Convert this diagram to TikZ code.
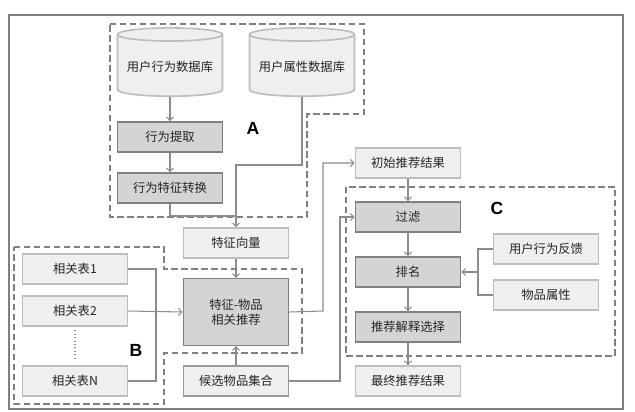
\documentclass[tikz,border=0pt]{standalone}
\usepackage{fontspec}
\setmainfont{Noto Sans CJK SC}
\newfontfamily\lblfont{Liberation Sans}
\usetikzlibrary{shapes.geometric,arrows.meta}
\definecolor{darkbox}{HTML}{D4D4D4}
\definecolor{lightbox}{HTML}{EFEFEF}
\definecolor{edgegray}{HTML}{808080}
\definecolor{softgray}{HTML}{BDBDBD}
\definecolor{linegray}{HTML}{8C8C8C}
\definecolor{txt}{HTML}{262626}

\begin{document}
\begin{tikzpicture}[x=0.03cm, y=-0.03cm,
  every node/.style={font=\fontsize{10.5}{12.5}\selectfont, text=txt, align=center},
  darkstep/.style={draw=edgegray, line width=1.4pt, fill=darkbox, minimum width=3.15cm, minimum height=0.9cm},
  lightstep/.style={draw=softgray, line width=1.4pt, fill=lightbox, minimum width=3.15cm, minimum height=0.9cm},
  dbase/.style={cylinder, shape border rotate=90, aspect=0.14, draw=softgray, line width=1.4pt, fill=lightbox, minimum width=3.15cm, minimum height=2.05cm},
  region/.style={draw=edgegray, line width=1.6pt, dash pattern=on 5.5pt off 3pt},
  conn/.style={draw=linegray, line width=0.9pt},
  arr/.style={conn, -{Straight Barb[length=3pt,width=6pt]}},
  tag/.style={font=\lblfont\bfseries\fontsize{15}{16}\selectfont, text=black}]
\useasboundingbox (0,0) rectangle (635,411);
\draw[edgegray, line width=1pt] (9,15) rectangle (623,409);

% regions A, B, C
\draw[region] (110,24) -- (364,24) -- (364,114) -- (307,114) -- (307,217) -- (110,217) -- cycle;
\draw[region] (14,247) -- (164,247) -- (164,269) -- (302,269) -- (302,353) -- (164,353) -- (164,404) -- (14,404) -- cycle;
\draw[region] (346,187) rectangle (615,356);
\node[tag] (labA) at (253,128) {A};
\node[tag] (labB) at (136,350) {B};
\node[tag] (labC) at (497,208) {C};

% part A
\node[dbase] (userdb) at (170,67) {用户行为数据库};
\node[dbase] (attrdb) at (302,67) {用户属性数据库};
\node[darkstep] (extract) at (170,137) {行为提取};
\node[darkstep] (convert) at (170,188) {行为特征转换};
\node[lightstep] (fvec) at (236,243) {特征向量};

% part B
\node[lightstep] (tab1) at (75,269) {相关表1};
\node[lightstep] (tab2) at (75,311) {相关表2};
\node[lightstep] (tabN) at (75,381) {相关表N};
\node[darkstep, minimum height=2cm] (match) at (236,312) {特征-物品\\相关推荐};
\node[lightstep, draw=edgegray!80] (cand) at (236,381) {候选物品集合};

% part C
\node[lightstep] (init) at (408,163) {初始推荐结果};
\node[darkstep] (filt) at (408,217) {过滤};
\node[darkstep] (rank) at (408,272) {排名};
\node[darkstep] (expl) at (408,327) {推荐解释选择};
\node[lightstep] (final) at (408,381) {最终推荐结果};
\node[lightstep] (feedback) at (546,249) {用户行为反馈};
\node[lightstep] (itemattr) at (546,295) {物品属性};

\coordinate (bendA) at (236,165);
\coordinate (mergeA) at (236,216);
\coordinate (busB) at (156,311);
\coordinate (upM) at (323,311);
\coordinate (upC) at (340,381);
\coordinate (busC) at (478,272);

\draw[arr] (userdb.south) -- (extract.north);
\draw[arr] (extract) -- (convert);
\draw[conn] (convert.south) |- (mergeA);
\draw[arr] (attrdb.south) |- (bendA) -- (fvec.north);
\draw[arr] (fvec) -- (match);
\draw[arr] (cand) -- (match);
\draw[conn] (tab1.east) -| (busB) |- (tabN.east);
\draw[arr] (tab2.east) -- (match.west);
\draw[conn, dotted] ([yshift=-3pt]tab2.south) -- ([yshift=4pt]tabN.north);
\draw[arr] (match.east) -- (upM) |- (init.west);
\draw[arr] (cand.east) -- (upC) |- (filt.west);
\draw[arr] (init) -- (filt);
\draw[arr] (filt) -- (rank);
\draw[arr] (rank) -- (expl);
\draw[arr] (expl) -- (final);
\draw[conn] (feedback.west) -| (busC) |- (itemattr.west);
\draw[arr] (busC) -- (rank.east);
\end{tikzpicture}
\end{document}
